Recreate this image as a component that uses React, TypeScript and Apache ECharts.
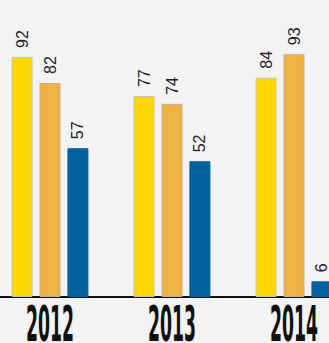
import React, { useEffect, useRef } from "react";
import * as echarts from "echarts";

const categories = ["2012", "2013", "2014"];
const seriesA = [92, 77, 84];
const seriesB = [82, 74, 93];
const seriesC = [57, 52, 6];
const colors = ["#FFD700", "#F0B244", "#00619C"];

export default function App() {
  const ref = useRef<HTMLDivElement>(null);
  useEffect(() => {
    if (!ref.current) return;
    const chart = echarts.init(ref.current, null, { renderer: "svg" });
    const mk = (name: string, data: number[], color: string, border: string) => ({
      name,
      type: "bar",
      data,
      barWidth: 21,
      barGap: "33%",
      itemStyle: { color, borderColor: border, borderWidth: 1 },
      label: {
        show: true,
        position: "top",
        distance: 9,
        rotate: 90,
        align: "left",
        verticalAlign: "middle",
        color: "#222",
        fontSize: 16,
        fontFamily: "Liberation Sans",
      },
    });
    chart.setOption({
      animation: false,
      backgroundColor: "#f3f3f3",
      grid: { left: 0, right: 0, top: 36, bottom: 46, containLabel: false },
      xAxis: {
        type: "category",
        data: categories,
        axisLine: { show: true, lineStyle: { color: "#111", width: 2 } },
        axisTick: { show: false },
        axisLabel: { show: false },
      },
      yAxis: { type: "value", min: 0, max: 100, show: false, splitLine: { show: false } },
      series: [
        mk("A", seriesA, colors[0], "#c8c8a0"),
        mk("B", seriesB, colors[1], "#c0b090"),
        mk("C", seriesC, colors[2], "#00619C"),
      ],
    });
    const graphics = categories.map((c) => {
      const px = chart.convertToPixel({ xAxisIndex: 0 }, c) as number;
      return {
        type: "text",
        x: px,
        y: 305,
        scaleX: 0.8,
        scaleY: 2.05,
        style: {
          text: c,
          fontFamily: "DejaVu Sans Condensed",
          fontWeight: "bold",
          fontSize: 24,
          lineHeight: 18,
          fill: "#111",
          textAlign: "center",
          textVerticalAlign: "top",
        },
      };
    });
    chart.setOption({ graphic: graphics });
    return () => chart.dispose();
  }, []);
  return (
    <div
      style={{
        position: "absolute",
        left: 0,
        top: 0,
        width: 329,
        height: 343,
        overflow: "hidden",
        background: "#f3f3f3",
      }}
    >
      <div
        ref={ref}
        style={{ position: "absolute", left: -11, top: 0, width: 366, height: 343 }}
      />
    </div>
  );
}
